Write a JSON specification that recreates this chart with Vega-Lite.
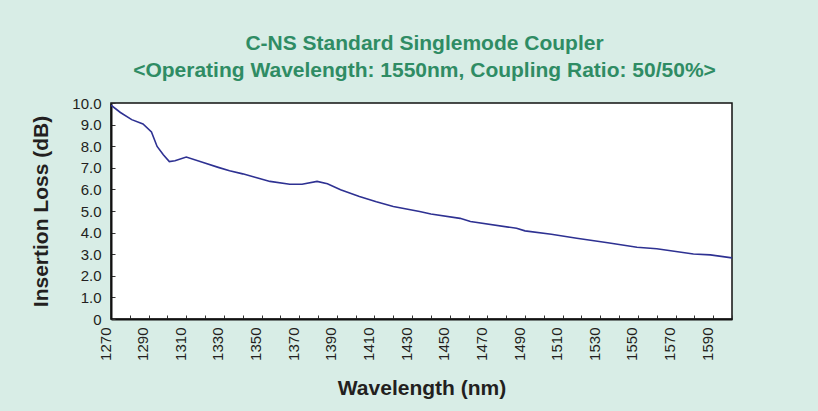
{
  "$schema": "https://vega.github.io/schema/vega-lite/v6.json",
  "width": 621,
  "height": 216,
  "autosize": {"type": "none"},
  "padding": {"left": 111, "top": 103, "right": 86, "bottom": 92},
  "background": "#d8ede6",
  "title": {
    "text": ["C-NS Standard Singlemode Coupler", "<Operating Wavelength: 1550nm, Coupling Ratio: 50/50%>"],
    "font": "Liberation Sans",
    "fontSize": 21,
    "fontWeight": "bold",
    "color": "#2f8c64",
    "lineHeight": 27,
    "anchor": "middle",
    "dx": 3,
    "offset": 15
  },
  "config": {
    "view": {"stroke": "#111", "strokeWidth": 1.5, "fill": "white"},
    "axis": {
      "labelFont": "Liberation Sans",
      "labelFontSize": 15,
      "labelColor": "#231f20",
      "titleFont": "Liberation Sans",
      "titleFontSize": 21,
      "titleFontWeight": "bold",
      "titleColor": "#231f20",
      "domainColor": "#111",
      "domainWidth": 2,
      "tickColor": "#333",
      "tickWidth": 1,
      "grid": false
    }
  },
  "data": {
    "values": [
      {"wl": 1270, "il": 9.9},
      {"wl": 1275, "il": 9.56},
      {"wl": 1281, "il": 9.23},
      {"wl": 1287, "il": 9.03},
      {"wl": 1291.5, "il": 8.66},
      {"wl": 1294.5, "il": 7.99},
      {"wl": 1297.8, "il": 7.6},
      {"wl": 1301, "il": 7.29},
      {"wl": 1304, "il": 7.33},
      {"wl": 1310, "il": 7.5},
      {"wl": 1319, "il": 7.25},
      {"wl": 1327, "il": 7.02},
      {"wl": 1333, "il": 6.86},
      {"wl": 1340, "il": 6.72},
      {"wl": 1347, "il": 6.55},
      {"wl": 1354.5, "il": 6.37},
      {"wl": 1365, "il": 6.24},
      {"wl": 1371.5, "il": 6.24},
      {"wl": 1379.5, "il": 6.37},
      {"wl": 1385, "il": 6.26},
      {"wl": 1392, "il": 5.98},
      {"wl": 1402, "il": 5.67},
      {"wl": 1411, "il": 5.43},
      {"wl": 1420, "il": 5.21},
      {"wl": 1434, "il": 4.98},
      {"wl": 1440, "il": 4.86},
      {"wl": 1455.5, "il": 4.66},
      {"wl": 1461, "il": 4.51},
      {"wl": 1485.5, "il": 4.2},
      {"wl": 1490, "il": 4.08},
      {"wl": 1504, "il": 3.92},
      {"wl": 1517.5, "il": 3.74},
      {"wl": 1534, "il": 3.53},
      {"wl": 1549.5, "il": 3.32},
      {"wl": 1560, "il": 3.25},
      {"wl": 1579.5, "il": 3.01},
      {"wl": 1588.5, "il": 2.97},
      {"wl": 1600, "il": 2.83}
    ]
  },
  "mark": {"type": "line", "color": "#2e3192", "strokeWidth": 1.6, "clip": true},
  "encoding": {
    "x": {
      "field": "wl",
      "type": "quantitative",
      "scale": {"domain": [1270, 1600], "nice": false, "zero": false},
      "axis": {
        "title": "Wavelength (nm)",
        "values": [1270,1280,1290,1300,1310,1320,1330,1340,1350,1360,1370,1380,1390,1400,1410,1420,1430,1440,1450,1460,1470,1480,1490,1500,1510,1520,1530,1540,1550,1560,1570,1580,1590,1600],
        "labelExpr": "datum.value % 20 == 10 ? datum.label : ''",
        "format": "d",
        "labelAngle": -90,
        "labelOffset": -6,
        "tickSize": -4,
        "labelPadding": 12,
        "titlePadding": 17
      }
    },
    "y": {
      "field": "il",
      "type": "quantitative",
      "scale": {"domain": [0, 10], "nice": false},
      "axis": {
        "title": "Insertion Loss (dB)",
        "values": [0,1,2,3,4,5,6,7,8,9,10],
        "labelExpr": "datum.value == 0 ? '0' : format(datum.value, '.1f')",
        "tickSize": -4,
        "labelPadding": 14,
        "titlePadding": 20
      }
    }
  }
}
